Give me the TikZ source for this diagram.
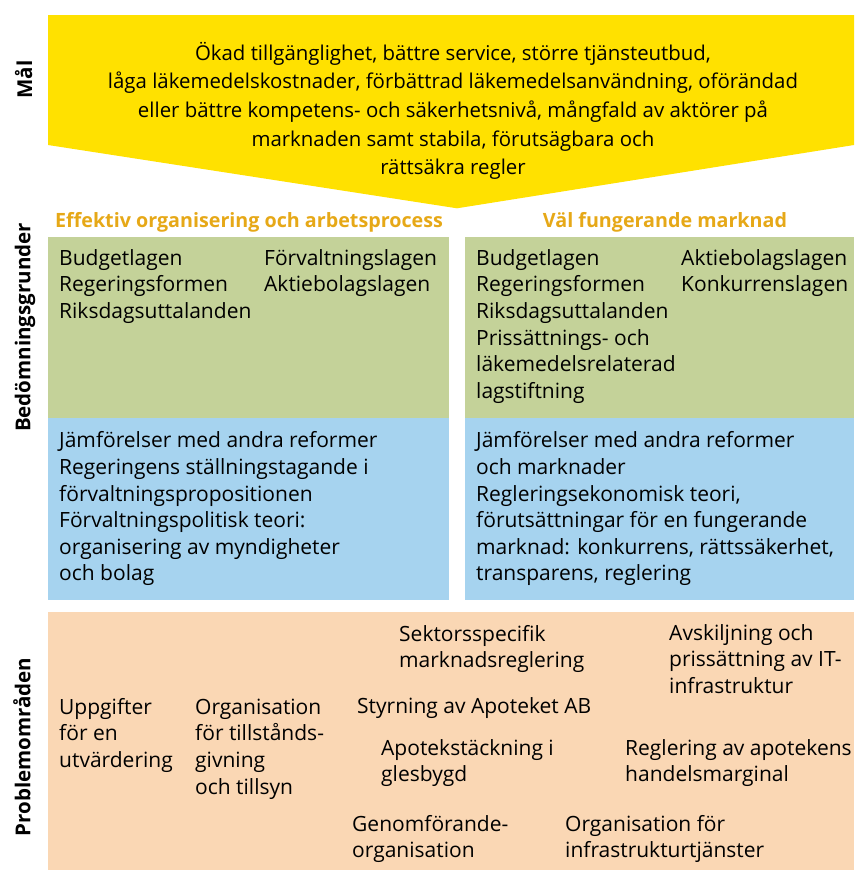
\documentclass[tikz,border=0pt]{standalone}
\usepackage{fontspec}
\setmainfont{Open Sans}
\definecolor{malyellow}{HTML}{FFE100}
\definecolor{headgold}{HTML}{E6A817}
\definecolor{panelgreen}{HTML}{C4D299}
\definecolor{panelblue}{HTML}{A6D3EF}
\definecolor{panelpeach}{HTML}{FAD7B4}
\newcommand\bodyfnt{\fontsize{21}{26.6}\selectfont}
\newcommand\goalfnt{\fontsize{20.4}{28.7}\selectfont}
\tikzset{
  txt/.style={anchor=north west, inner sep=0pt, align=left, font=\bodyfnt},
  heading/.style={anchor=base, inner sep=0pt, font=\fontsize{19.7}{22}\selectfont\bfseries, text=headgold},
  sidelabel/.style={anchor=base, inner sep=0pt, rotate=90, font=\fontsize{20.5}{26}\selectfont\bfseries},
  panel/.style={draw=none}
}
\begin{document}
\begin{tikzpicture}[x=1pt,y=-1pt]
\useasboundingbox (0,0) rectangle (854,870);
% goal shape
\fill[malyellow] (48,15) -- (854,15) -- (854,145) -- (457,208.3) -- (48,145) -- cycle;
% panels
\fill[panelgreen] (48,237) rectangle (449,418);
\fill[panelblue] (48,418) rectangle (449,600);
\fill[panelgreen] (465,237) rectangle (854,418);
\fill[panelblue] (465,418) rectangle (854,600);
\fill[panelpeach] (48,612) rectangle (854,870);
% goal text
\node[anchor=north, inner sep=0pt, align=center, font=\goalfnt] (goal) at (453,39.9)
 {\strut Ökad tillgänglighet, bättre service, större tjänsteutbud,\\
  låga läkemedelskostnader, förbättrad läkemedelsanvändning, oförändad\\
  eller bättre kompetens- och säkerhetsnivå, mångfald av aktörer på\\
  marknaden samt stabila, förutsägbara och\\
  rättsäkra regler};
% side labels
\node[sidelabel] (lmal) at (32,79.5) {Mål};
\node[sidelabel] (lbed) at (30.5,327.5) {Bedömningsgrunder};
\node[sidelabel] (lprob) at (30.5,747) {Problemområden};
% headings
\node[heading] (h1) at (249,227) {Effektiv organisering och arbetsprocess};
\node[heading] (h2) at (665,227) {Väl fungerande marknad};
% left panels
\node[txt] (gl1) at (59,246.4) {\strut Budgetlagen\\Regeringsformen\\Riksdagsuttalanden};
\node[txt] (gl2) at (264,246.4) {\strut Förvaltningslagen\\Aktiebolagslagen};
\node[txt] (bl) at (59,429.1) {\strut Jämförelser med andra reformer\\
 Regeringens ställningstagande i\\
 förvaltningspropositionen\\
 Förvaltningspolitisk teori:\\
 organisering av myndigheter\\
 och bolag};
% right panels
\node[txt] (gr1) at (476,246.4) {\strut Budgetlagen\\Regeringsformen\\Riksdagsuttalanden\\Prissättnings- och\\läkemedelsrelaterad\\lagstiftning};
\node[txt] (gr2) at (681,246.4) {\strut Aktiebolagslagen\\Konkurrenslagen};
\node[txt] (br) at (476,429.1) {\strut Jämförelser med andra reformer\\
 och marknader\\
 Regleringsekonomisk teori,\\
 förutsättningar för en fungerande\\
 marknad: konkurrens, rättssäkerhet,\\
 transparens, reglering};
% problem areas
\node[txt] (p1) at (59,695.4) {\strut Uppgifter\\för en\\utvärdering};
\node[txt] (p2) at (195,695.4) {\strut Organisation\\för tillstånds-\\givning\\och tillsyn};
\node[txt] (p3) at (399,622.4) {\strut Sektorsspecifik\\marknadsreglering};
\node[txt] (p4) at (357,694.4) {\strut Styrning av Apoteket AB};
\node[txt] (p5) at (381,736.4) {\strut Apotekstäckning i\\glesbygd};
\node[txt] (p6) at (352,812.4) {\strut Genomförande-\\organisation};
\node[txt] (p7) at (565,812.4) {\strut Organisation för\\infrastrukturtjänster};
\node[txt] (p8) at (625,736.4) {\strut Reglering av apotekens\\handelsmarginal};
\node[txt] (p9) at (669,621.4) {\strut Avskiljning och\\prissättning av IT-\\infrastruktur};
\end{tikzpicture}
\end{document}
